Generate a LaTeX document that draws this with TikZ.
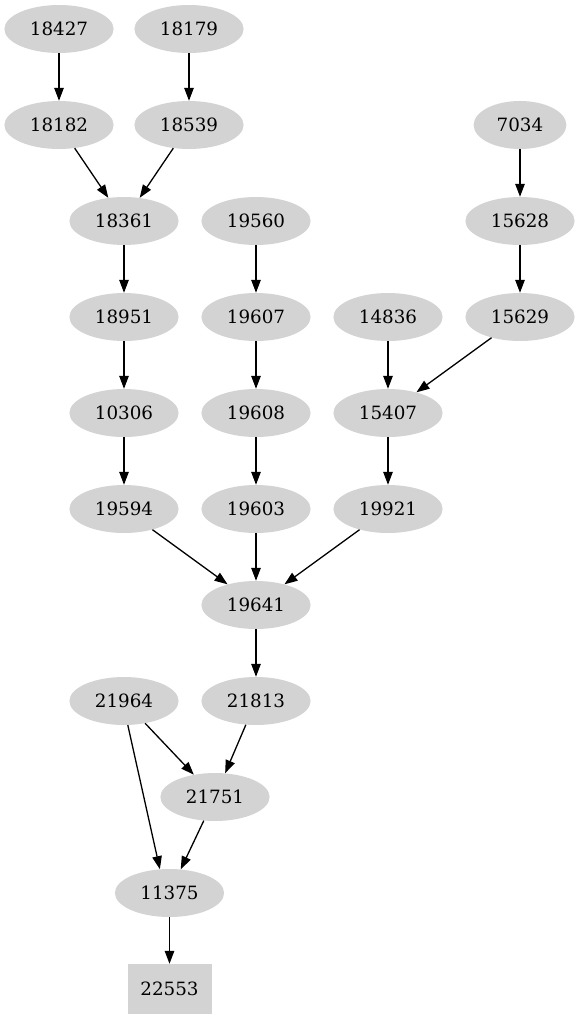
\documentclass[tikz,border=0pt]{standalone}
\usepackage{fontspec}
\setmainfont{DejaVu Serif}
\usetikzlibrary{shapes.geometric, arrows.meta}

\definecolor{nodegray}{RGB}{211,211,211}

\tikzset{
  job/.style={ellipse, fill=nodegray, inner xsep=9.5pt, inner ysep=0pt,
    minimum height=48pt, font=\fontsize{18.3}{22}\selectfont},
  sinkjob/.style={rectangle, fill=nodegray, minimum width=84pt,
    minimum height=50pt, font=\fontsize{18.3}{22}\selectfont},
  link/.style={-{Triangle[length=13pt, width=9.5pt]}, line width=1.3pt}
}

\begin{document}
\begin{tikzpicture}[x=1pt, y=-1pt]
    \useasboundingbox (0,0) rectangle (579,1019);

    % Top rows
    \node[job] (n18427) at (59,29) {18427};
    \node[job] (n18179) at (189,29) {18179};
    \node[job] (n18182) at (59,125) {18182};
    \node[job] (n18539) at (189,125) {18539};
    \node[job] (n7034) at (520,125) {7034};

    % Middle chains
    \node[job] (n18361) at (124,221) {18361};
    \node[job] (n19560) at (256,221) {19560};
    \node[job] (n15628) at (520,221) {15628};
    \node[job] (n18951) at (124,317) {18951};
    \node[job] (n19607) at (256,317) {19607};
    \node[job] (n14836) at (388,317) {14836};
    \node[job] (n15629) at (520,317) {15629};
    \node[job] (n10306) at (124,413) {10306};
    \node[job] (n19608) at (256,413) {19608};
    \node[job] (n15407) at (388,413) {15407};
    \node[job] (n19594) at (124,509) {19594};
    \node[job] (n19603) at (256,509) {19603};
    \node[job] (n19921) at (388,509) {19921};

    % Merge and bottom
    \node[job] (n19641) at (256,605) {19641};
    \node[job] (n21964) at (124,701) {21964};
    \node[job] (n21813) at (256,701) {21813};
    \node[job] (n21751) at (215,797) {21751};
    \node[job] (n11375) at (169.5,893) {11375};
    \node[sinkjob] (n22553) at (169.5,989) {22553};

    % Dependencies
    \foreach \a/\b in {18427/18182, 18179/18539, 18182/18361, 18539/18361,
        7034/15628, 15628/15629, 18361/18951, 19560/19607, 18951/10306,
        19607/19608, 14836/15407, 15629/15407, 10306/19594, 19608/19603,
        15407/19921, 19594/19641, 19603/19641, 19921/19641, 19641/21813,
        21964/21751, 21813/21751, 21751/11375, 11375/22553}
        \draw[link] (n\a) -- (n\b);

    % Long edge past 21751
    \draw[link] (n21964.-81) -- (n11375.112);
  \end{tikzpicture}
\end{document}
